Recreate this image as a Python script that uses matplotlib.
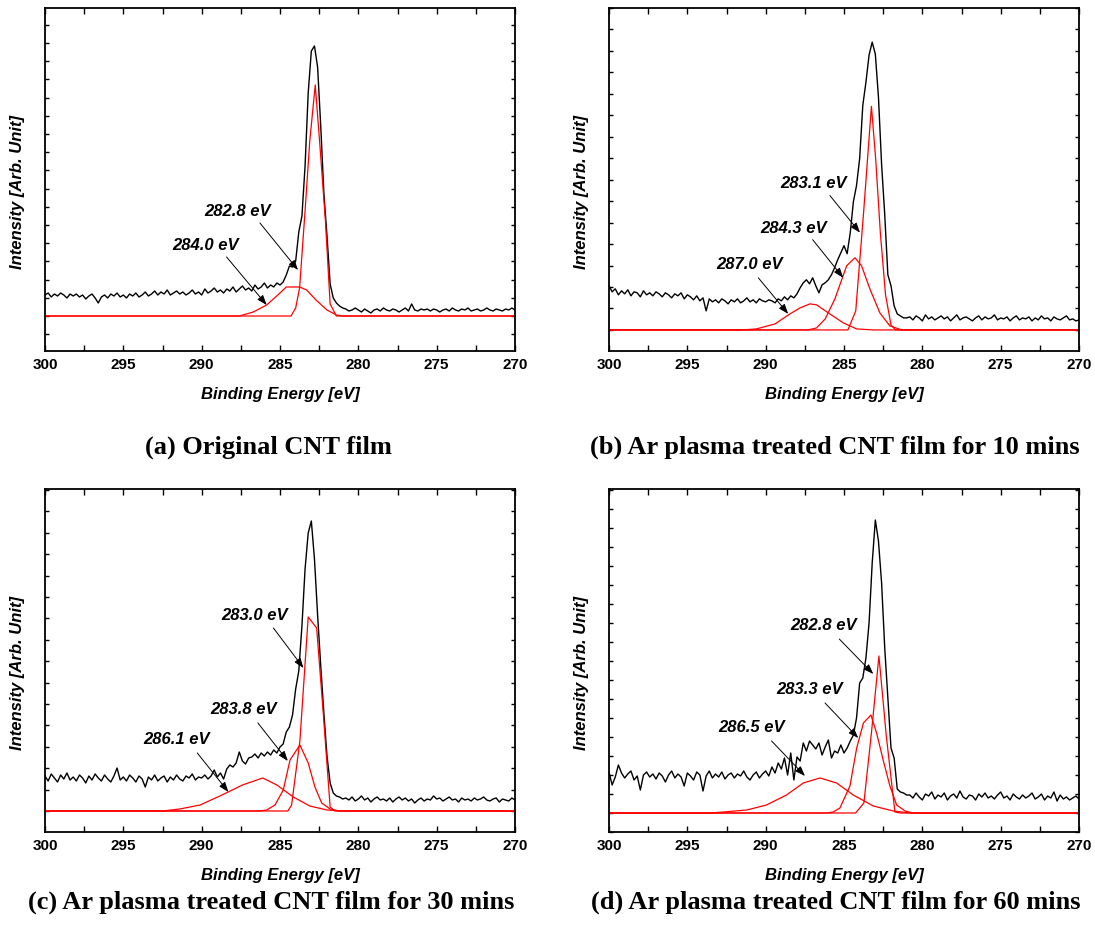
import matplotlib
matplotlib.use('Agg')
import matplotlib.pyplot as plt
from matplotlib.ticker import MultipleLocator
import numpy as np

plt.rcParams['font.family'] = ['Liberation Sans', 'DejaVu Sans']
plt.rcParams['font.weight'] = 'bold'

# binding energy of every scan point (eV), 300 -> 270 in 0.2 eV steps
energy = np.linspace(300, 270, 151)

# measured C1s intensity (arb. unit), one value per energy point
scan_a = [21, 23, 19, 22, 20, 23, 21, 18, 22, 20,
          22, 19, 21, 17, 20, 22, 18, 13, 19, 21,
          18, 22, 20, 23, 19, 21, 18, 22, 20, 23,
          19, 21, 24, 20, 22, 25, 21, 24, 22, 26,
          21, 23, 25, 22, 24, 21, 23, 26, 22, 24,
          21, 27, 23, 25, 28, 24, 26, 23, 27, 25,
          29, 24, 27, 30, 26, 28, 25, 31, 27, 29,
          33, 28, 31, 29, 33, 31,
          34, 41, 50, 49, 55, 84, 100, 150, 223, 265,
          270, 249, 190, 123, 80, 32, 18, 13, 10, 8,
          7, 5, 6, 8, 6, 4, 7, 5, 3, 6,
          7, 5, 8, 6, 5, 7, 6, 4, 6, 8,
          5, 12, 6, 5, 7, 6, 7, 5, 7, 6,
          4, 6, 7, 5, 8, 6, 5, 7, 6, 8,
          5, 6, 7, 5, 6, 8, 6, 5, 7, 6,
          5, 7, 6, 8, 6]

scan_b = [44, 38, 41, 35, 39, 36, 40, 34, 38, 37,
          33, 39, 35, 37, 34, 38, 36, 33, 37, 35,
          32, 36, 34, 37, 31, 35, 33, 30, 34, 29,
          32, 19, 31, 28, 30, 27, 31, 29, 26, 30,
          28, 31, 27, 29, 32, 28, 30, 27, 31, 29,
          28, 30, 29, 27, 31, 29, 33, 30, 34, 32,
          36, 42, 47, 50, 46, 52, 44, 37, 45, 47,
          50, 55, 62, 70, 77, 84,
          76, 97, 128, 144, 171, 224, 247, 274, 287, 275,
          232, 165, 115, 55, 44, 24, 16, 14, 12, 12,
          13, 10, 14, 12, 9, 15, 11, 13, 10, 12,
          14, 11, 13, 9, 12, 15, 10, 12, 13, 11,
          9, 12, 14, 10, 13, 11, 12, 15, 10, 12,
          11, 13, 9, 12, 14, 10, 12, 11, 13, 9,
          12, 10, 14, 11, 12, 9, 13, 11, 10, 12,
          14, 10, 11, 9, 10]

scan_c = [35, 30, 37, 33, 29, 36, 32, 38, 31, 34,
          30, 36, 33, 28, 35, 31, 37, 33, 30, 36,
          32, 29, 35, 43, 31, 34, 30, 36, 33, 29,
          35, 32, 24, 34, 31, 36, 30, 33, 35, 29,
          34, 31, 36, 32, 30, 35, 33, 37, 31, 34,
          33, 36, 32, 35, 41, 34, 38, 32, 42, 46,
          44, 48, 59, 50, 47, 53, 54, 57, 53, 58,
          55, 59, 56, 61, 58, 64,
          67, 79, 84, 96, 122, 140, 185, 242, 278, 290,
          252, 196, 145, 98, 55, 28, 18, 15, 14, 12,
          13, 11, 14, 10, 12, 15, 11, 13, 9, 12,
          14, 11, 12, 10, 13, 9, 12, 14, 11, 13,
          10, 12, 8, 11, 13, 10, 12, 11, 15, 12,
          13, 10, 12, 14, 11, 12, 9, 13, 11, 12,
          10, 13, 11, 12, 14, 11, 10, 12, 13, 9,
          12, 11, 10, 13, 11]

scan_d = [41, 28, 36, 48, 40, 35, 39, 42, 33, 37,
          23, 38, 41, 36, 39, 34, 40, 37, 31, 38,
          42, 35, 39, 36, 27, 40, 37, 33, 41, 38,
          22, 37, 42, 35, 39, 36, 41, 34, 38, 40,
          35, 39, 37, 42, 36, 33, 38, 41, 35, 39,
          42, 37, 46, 40, 50, 44, 55, 38, 60, 33,
          56, 52, 70, 62, 72, 68, 64, 70, 58, 66,
          73, 55, 62, 60, 68, 60,
          65, 72, 78, 95, 130, 135, 155, 190, 250, 293,
          272, 230, 165, 115, 65, 55, 24, 21, 20, 18,
          18, 15, 20, 16, 13, 19, 17, 21, 14, 18,
          16, 20, 13, 17, 19, 15, 22, 16, 14, 18,
          17, 13, 19, 16, 20, 15, 17, 14, 18, 21,
          15, 17, 13, 19, 16, 14, 18, 15, 17, 20,
          14, 16, 19, 13, 17, 15, 21, 12, 18, 14,
          16, 13, 15, 17, 14]

# fitted components: (energy points, intensity points)
fit_a1_x = [300, 284.3, 284.0, 283.75, 283.4, 283.1, 282.75, 282.45, 282.1, 281.8, 281.4, 270]
fit_a1_y = [0, 0, 8, 28, 105, 175, 231, 170, 95, 12, 0, 0]
fit_a2_x = [300, 287.6, 286.7, 285.85, 285.0, 284.6, 284.2, 283.75, 283.3, 282.7, 282.0, 281.4, 281.0, 270]
fit_a2_y = [0, 0, 4, 11, 23, 29, 29, 29, 26, 16, 6, 1, 0, 0]

fit_b1_x = [300, 284.75, 284.25, 283.75, 283.25, 282.98, 282.68, 282.35, 282.0, 281.7, 270]
fit_b1_y = [0, 0, 19, 117, 223, 171, 97, 35, 5, 0, 0]
fit_b2_x = [300, 287.3, 286.75, 286.2, 285.58, 284.83, 284.3, 283.88, 283.35, 282.71, 282.07, 281.3, 270]
fit_b2_y = [0, 0, 2, 11, 31, 64, 72, 64, 41, 17, 4, 0, 0]
fit_b3_x = [300, 291.5, 290.6, 289.4, 288.45, 287.8, 287.17, 286.75, 286.0, 285.04, 284.19, 283.1, 270]
fit_b3_y = [0, 0, 1, 6, 16, 22, 26, 25, 17, 7, 1, 0, 0]

fit_c1_x = [300, 284.5, 284.26, 283.73, 283.2, 282.66, 282.24, 281.8, 281.5, 270]
fit_c1_y = [0, 0, 6, 70, 194, 183, 98, 4, 0, 0]
fit_c2_x = [300, 286.3, 285.85, 285.32, 284.79, 284.36, 283.73, 283.2, 282.77, 282.34, 281.8, 281.2, 270]
fit_c2_y = [0, 0, 1, 6, 21, 51, 66, 48, 24, 8, 2, 0, 0]
fit_c3_x = [300, 292.5, 291.4, 290.1, 288.7, 287.4, 286.1, 285.2, 284.15, 283.1, 282.0, 281.0, 270]
fit_c3_y = [0, 0, 2, 6, 16, 26, 33, 26, 14, 5, 1, 0, 0]

fit_d1_x = [300, 284.26, 283.73, 283.25, 282.77, 282.3, 281.75, 281.4, 270]
fit_d1_y = [0, 0, 10, 80, 157, 77, 1, 0, 0]
fit_d2_x = [300, 286.1, 285.69, 285.26, 284.62, 284.19, 283.76, 283.28, 282.92, 282.5, 282.07, 281.64, 281.1, 280.6, 270]
fit_d2_y = [0, 0, 1, 5, 27, 65, 90, 98, 80, 53, 27, 8, 2, 0, 0]
fit_d3_x = [300, 293.5, 292.7, 291.2, 289.95, 288.67, 287.6, 286.53, 285.47, 284.41, 283.13, 281.85, 280.8, 270]
fit_d3_y = [0, 0, 1, 3, 8, 18, 30, 35, 30, 18, 7, 2, 0, 0]

peak_labels_a = ['282.8 eV', '284.0 eV']
peak_labels_b = ['283.1 eV', '284.3 eV', '287.0 eV']
peak_labels_c = ['283.0 eV', '283.8 eV', '286.1 eV']
peak_labels_d = ['282.8 eV', '283.3 eV', '286.5 eV']

captions = ['(a) Original CNT film',
            '(b) Ar plasma treated CNT film for 10 mins',
            '(c) Ar plasma treated CNT film for 30 mins',
            '(d) Ar plasma treated CNT film for 60 mins']

# label placement: text (x, y), arrow tail (x, y), arrow head (x, y)
label_pos_a = [(287.68, 104, 286.28, 93, 283.85, 46),
               (289.73, 71, 288.41, 59, 285.85, 11)]
label_pos_b = [(286.96, 146, 285.9, 134, 283.98, 97),
               (288.19, 101, 287.0, 90, 285.05, 52),
               (291.05, 65, 290.47, 52, 288.56, 16)]
label_pos_c = [(286.6, 196, 285.42, 183, 283.5, 143),
               (287.3, 101, 286.41, 88, 284.5, 50),
               (291.6, 71, 290.28, 58, 288.29, 19)]
label_pos_d = [(286.32, 187, 285.3, 174, 283.13, 139),
               (287.17, 123, 286.21, 110, 284.09, 75),
               (290.9, 86, 289.62, 72, 287.49, 37)]

fig = plt.figure(figsize=(10.95, 9.43), dpi=100)

W, H = 1095.0, 943.0
boxes = [(45, 8), (609, 8), (45, 489), (609, 489)]   # left, top in px
ylims = [(-35, 308), (-21, 321), (-21, 322), (-19, 324)]
ysteps = [18.2, 21.4, 21.4, 19.0]

panels = [
    (scan_a, [(fit_a1_x, fit_a1_y), (fit_a2_x, fit_a2_y)], peak_labels_a, label_pos_a),
    (scan_b, [(fit_b1_x, fit_b1_y), (fit_b2_x, fit_b2_y), (fit_b3_x, fit_b3_y)], peak_labels_b, label_pos_b),
    (scan_c, [(fit_c1_x, fit_c1_y), (fit_c2_x, fit_c2_y), (fit_c3_x, fit_c3_y)], peak_labels_c, label_pos_c),
    (scan_d, [(fit_d1_x, fit_d1_y), (fit_d2_x, fit_d2_y), (fit_d3_x, fit_d3_y)], peak_labels_d, label_pos_d),
]

for k, (scan, fits, labels, pos) in enumerate(panels):
    left, top = boxes[k]
    ax = fig.add_axes([left / W, 1 - (top + 343) / H, 470 / W, 343 / H])
    ax.plot(energy, scan, color='black', lw=1.0)
    for fx, fy in fits:
        ax.plot(fx, fy, color='red', lw=0.9)
    for lab, (tx, ty, sx, sy, ex, ey) in zip(labels, pos):
        ax.text(tx, ty, lab, ha='center', va='center', fontsize=12,
                fontstyle='italic', fontweight='bold')
        ax.annotate('', xy=(ex, ey), xytext=(sx, sy),
                    arrowprops=dict(arrowstyle='-|>,head_length=0.6,head_width=0.22',
                                    color='black', lw=0.7, shrinkA=0, shrinkB=0,
                                    mutation_scale=10))
    ax.set_xlim(300, 270)
    y0, y1 = ylims[k]
    ax.set_ylim(y0, y1)
    st = ysteps[k]
    ax.set_yticks(np.arange(np.ceil(y0 / st) * st, y1 + 0.01, st))
    ax.xaxis.set_major_locator(MultipleLocator(5))
    ax.xaxis.set_minor_locator(MultipleLocator(2.5))
    ax.tick_params(axis='x', which='both', direction='in', top=True, length=4, width=1,
                   labelsize=11, pad=5)
    ax.tick_params(axis='y', which='both', direction='in', right=True, length=3, width=1,
                   labelleft=False)
    for sp in ax.spines.values():
        sp.set_linewidth(1.3)
    ax.set_xlabel('Binding Energy [eV]', fontsize=12, fontstyle='italic', fontweight='bold',
                  labelpad=11)
    ax.set_ylabel('Intensity [Arb. Unit]', fontsize=12, fontstyle='italic', fontweight='bold')
    ax.yaxis.set_label_coords(-0.043, 0.464)

cap_pos = [(268, 447), (835, 447), (271, 902), (836, 902)]
for cap, (cx, cy) in zip(captions, cap_pos):
    fig.text(cx / W, 1 - cy / H, cap, ha='center', va='center', fontsize=19,
             family='Liberation Serif', fontweight='bold')

fig.savefig('out.png', dpi=100)
